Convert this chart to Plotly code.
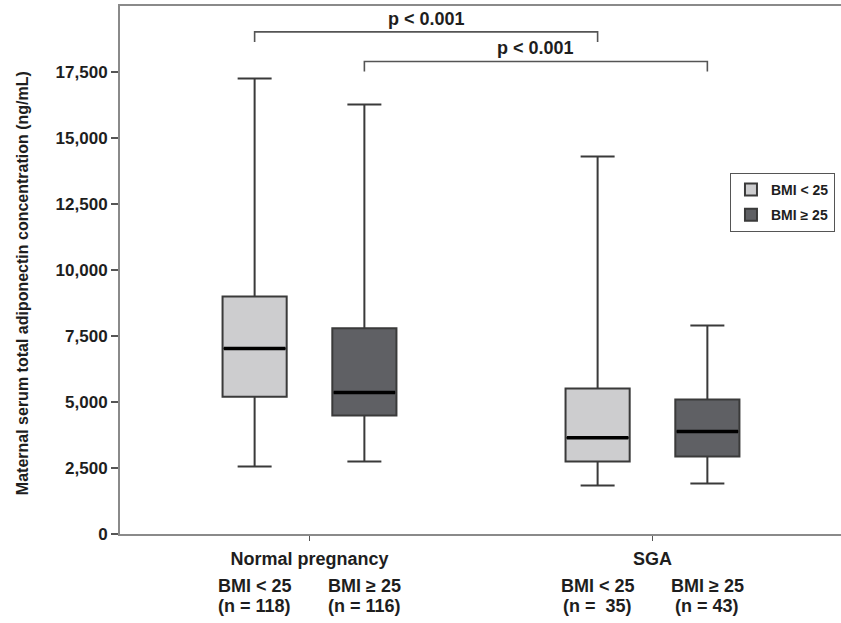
import plotly.graph_objects as go

# ---- data ----
groups = ["Normal pregnancy", "SGA"]
subgroups = ["BMI < 25", "BMI ≥ 25"]
n_labels = {"BMI < 25": ["118", "\u00a035"], "BMI ≥ 25": ["116", "43"]}

lower_whisker = {"BMI < 25": [2560, 1840], "BMI ≥ 25": [2750, 1910]}
q1_vals = {"BMI < 25": [5200, 2750], "BMI ≥ 25": [4490, 2940]}
median_vals = {"BMI < 25": [7030, 3650], "BMI ≥ 25": [5360, 3880]}
q3_vals = {"BMI < 25": [9000, 5510], "BMI ≥ 25": [7790, 5090]}
upper_whisker = {"BMI < 25": [17250, 14300], "BMI ≥ 25": [16270, 7900]}

p_labels = ["p < 0.001", "p < 0.001"]
# comparisons: (subgroup, group index a, group index b)
comparisons = [("BMI < 25", 0, 1), ("BMI ≥ 25", 0, 1)]
bracket_levels = [19020, 17900]

y_ticks = [0, 2500, 5000, 7500, 10000, 12500, 15000, 17500]
y_title = "Maternal serum total adiponectin concentration (ng/mL)"

# ---- styling ----
fills = {"BMI < 25": "#cdcdcf", "BMI ≥ 25": "#5f6064"}
offsets = {"BMI < 25": -0.16, "BMI ≥ 25": 0.16}
box_w = 0.187
FONT = "Liberation Sans, Arial, sans-serif"
TXT = "#1e1e1e"

fig = go.Figure()

for sg in subgroups:
    xs = [g + offsets[sg] for g in range(len(groups))]
    fig.add_trace(go.Box(
        name=sg,
        legendgroup=sg,
        x=xs,
        q1=q1_vals[sg], median=median_vals[sg], q3=q3_vals[sg],
        lowerfence=lower_whisker[sg], upperfence=upper_whisker[sg],
        width=box_w,
        whiskerwidth=0.53,
        fillcolor=fills[sg],
        line=dict(color="#3a3a3a", width=2),
        boxpoints=False,
        hoverinfo="skip",
    ))

# thicker black median lines
for sg in subgroups:
    mx, my = [], []
    for g in range(len(groups)):
        c = g + offsets[sg]
        mx += [c - box_w / 2 + 0.004, c + box_w / 2 - 0.004, None]
        my += [median_vals[sg][g], median_vals[sg][g], None]
    fig.add_trace(go.Scatter(x=mx, y=my, mode="lines",
                             line=dict(color="#000000", width=3.5),
                             showlegend=False, hoverinfo="skip"))

shapes = []
annotations = []
drop = 380
for (sg, a, b), lvl, lab in zip(comparisons, bracket_levels, p_labels):
    xa = a + offsets[sg]
    xb = b + offsets[sg]
    shapes.append(dict(type="path", xref="x", yref="y",
                       path=f"M {xa},{lvl-drop} L {xa},{lvl} L {xb},{lvl} L {xb},{lvl-drop}",
                       line=dict(color="#555555", width=1.6)))
    annotations.append(dict(x=(xa + xb) / 2, y=lvl, xref="x", yref="y",
                            text=f"<b>{lab}</b>", showarrow=False, yanchor="bottom", yshift=1,
                            font=dict(family=FONT, size=18, color=TXT)))

# sub labels below each box (two lines)
for sg in subgroups:
    for g in range(len(groups)):
        annotations.append(dict(
            x=g + offsets[sg], y=0, xref="x", yref="paper",
            text=f"<b>{sg}</b>", showarrow=False, yanchor="middle", yshift=-52,
            font=dict(family=FONT, size=18, color=TXT)))
        annotations.append(dict(
            x=g + offsets[sg], y=0, xref="x", yref="paper",
            text=f"<b>(n = {n_labels[sg][g]})</b>", showarrow=False, yanchor="middle",
            yshift=-72, font=dict(family=FONT, size=18, color=TXT)))

# y-axis title (as rotated annotation, placed as in the reference)
annotations.append(dict(x=-0.136, y=0.475, xref="paper", yref="paper",
                        text=f"<b>{y_title}</b>", textangle=-90, showarrow=False,
                        xanchor="center", yanchor="middle",
                        font=dict(family=FONT, size=16, color=TXT)))

fig.update_layout(
    width=841, height=623,
    margin=dict(l=120, r=0, t=6, b=89),
    paper_bgcolor="white", plot_bgcolor="white",
    showlegend=True,
    boxmode="overlay",
    legend=dict(x=0.846, y=0.684, xanchor="left", yanchor="top",
                bordercolor="#555555", borderwidth=1, bgcolor="white",
                font=dict(family=FONT, size=14, color=TXT, weight="bold"),
                traceorder="grouped", tracegroupgap=4,
                itemclick=False),
    shapes=shapes,
    annotations=annotations,
    xaxis=dict(range=[-0.5525, 1.5496], tickmode="array",
               tickvals=list(range(len(groups))), ticktext=[f"<b>{g}</b>" for g in groups],
               ticks="outside", ticklen=5, tickcolor="#555555", tickwidth=1,
               showline=True, linecolor="#8a8a8a", linewidth=2, mirror=True,
               showgrid=False, zeroline=False, automargin=False,
               ticklabelstandoff=2,
               tickfont=dict(family=FONT, size=18, color=TXT)),
    yaxis=dict(range=[0, 20000], tickmode="array", tickvals=y_ticks,
               tickformat=",", ticks="outside", ticklen=7, tickcolor="#555555",
               tickwidth=1.5, showline=True, linecolor="#8a8a8a", linewidth=2,
               showgrid=False, zeroline=False, automargin=False,
               tickfont=dict(family=FONT, size=17, color=TXT, weight="bold")),
)

fig.write_html("out.html", config={"displayModeBar": False},
               post_script="document.body.style.margin='0';")
